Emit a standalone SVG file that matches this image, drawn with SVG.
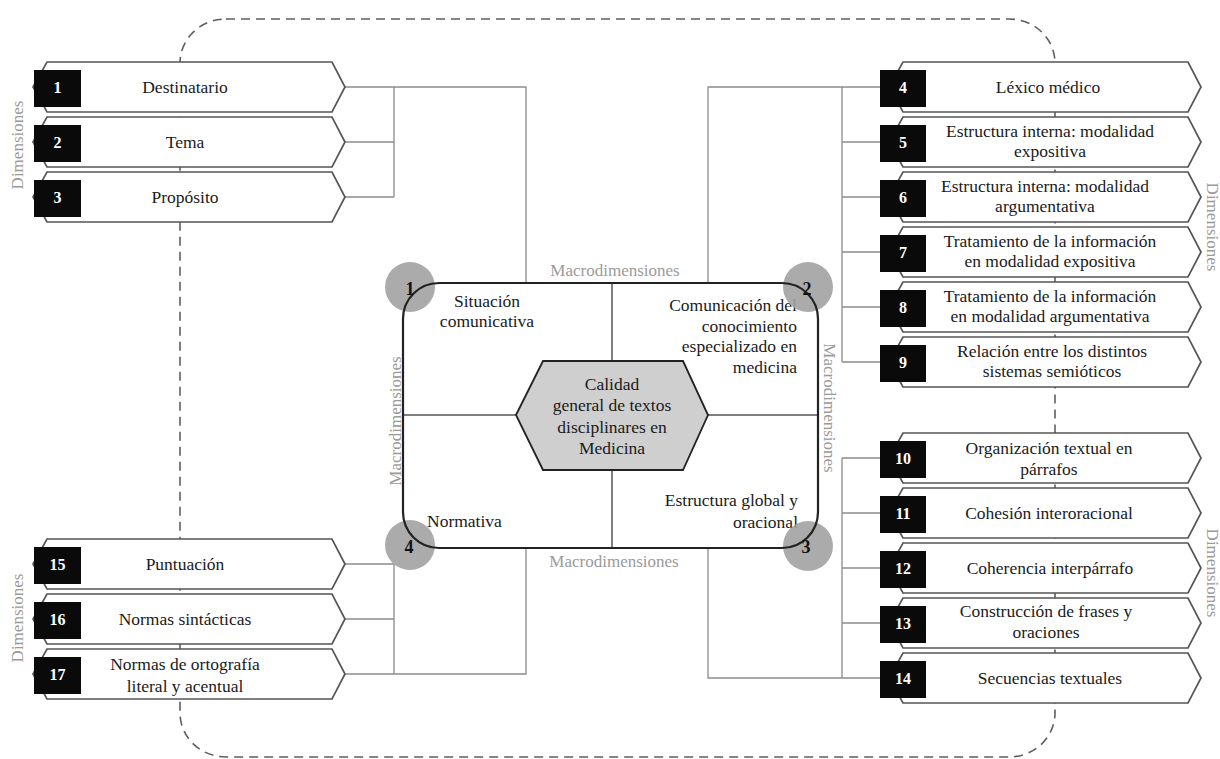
<svg xmlns="http://www.w3.org/2000/svg" width="1220" height="759" viewBox="0 0 1220 759">
<defs>
<style>
text{font-family:'Liberation Serif','Times New Roman','DejaVu Serif',serif}
.box{fill:#fff;stroke:#555;stroke-width:1.7}
.sq{fill:#0a0a0a}
.num{font-weight:bold;font-size:16px;fill:#fff;text-anchor:middle}
.lbl{font-size:17.5px;fill:#1a1a1a;text-anchor:middle}
.ctr{font-size:17.5px;fill:#1a1a1a}
.gray{font-size:17px;fill:#9a9a9a;text-anchor:middle}
.conn{fill:none;stroke:#8c8c8c;stroke-width:1.3}
.dash{fill:none;stroke:#5f5f5f;stroke-width:1.6;stroke-dasharray:9 6}
.circ{fill:#a2a2a2;fill-opacity:0.9}
.cnum{font-weight:bold;font-size:18px;fill:#111;text-anchor:middle}
</style>
<path id="chev" d="M14,0 H299 L312,25 L299,50 H14 L0,25 Z"/>
</defs>
<rect width="1220" height="759" fill="#fff"/>

<!-- outer dashed frame -->
<rect class="dash" x="180" y="19" width="875" height="738" rx="46" ry="44"/>

<!-- connectors -->
<g id="connectors" class="conn">
  <path d="M345,87 H526 V283 M345,142 H394 M345,197 H394 M394,87 V197"/>
  <path d="M345,564 H394 M345,619 H394 M345,674 H526 V548 M394,564 V674"/>
  <path d="M708,283 V87 H880 M842,87 V362 M842,142 H880 M842,197 H880 M842,252 H880 M842,307 H880 M842,362 H880"/>
  <path d="M708,548 V678 H880 M842,458 V678 M842,458 H880 M842,513 H880 M842,568 H880 M842,623 H880"/>
</g>

<!-- left top dimensions -->
<g id="d1"><use href="#chev" class="box" x="33" y="62"/><rect class="sq" x="34" y="70" width="47" height="37"/><text class="num" x="57.5" y="93">1</text><text class="lbl" x="185" y="93">Destinatario</text></g>
<g id="d2"><use href="#chev" class="box" x="33" y="117"/><rect class="sq" x="34" y="125" width="47" height="37"/><text class="num" x="57.5" y="148">2</text><text class="lbl" x="185" y="148">Tema</text></g>
<g id="d3"><use href="#chev" class="box" x="33" y="172"/><rect class="sq" x="34" y="180" width="47" height="37"/><text class="num" x="57.5" y="203">3</text><text class="lbl" x="185" y="203">Propósito</text></g>

<!-- left bottom dimensions -->
<g id="d15"><use href="#chev" class="box" x="33" y="539"/><rect class="sq" x="34" y="547" width="47" height="37"/><text class="num" x="57.5" y="570">15</text><text class="lbl" x="185" y="570">Puntuación</text></g>
<g id="d16"><use href="#chev" class="box" x="33" y="594"/><rect class="sq" x="34" y="602" width="47" height="37"/><text class="num" x="57.5" y="625">16</text><text class="lbl" x="185" y="625">Normas sintácticas</text></g>
<g id="d17"><use href="#chev" class="box" x="33" y="649"/><rect class="sq" x="34" y="657" width="47" height="37"/><text class="num" x="57.5" y="680">17</text><text class="lbl" x="185" y="670">Normas de ortografía</text><text class="lbl" x="185" y="692">literal y acentual</text></g>

<!-- right top dimensions -->
<g id="d4"><use href="#chev" class="box" x="889" y="62"/><rect class="sq" x="880" y="70" width="46" height="37"/><text class="num" x="903" y="93">4</text><text class="lbl" x="1048" y="93">Léxico médico</text></g>
<g id="d5"><use href="#chev" class="box" x="889" y="117"/><rect class="sq" x="880" y="125" width="46" height="37"/><text class="num" x="903" y="148">5</text><text class="lbl" x="1050" y="137">Estructura interna: modalidad</text><text class="lbl" x="1050" y="157">expositiva</text></g>
<g id="d6"><use href="#chev" class="box" x="889" y="172"/><rect class="sq" x="880" y="180" width="46" height="37"/><text class="num" x="903" y="203">6</text><text class="lbl" x="1045" y="192">Estructura interna: modalidad</text><text class="lbl" x="1045" y="212">argumentativa</text></g>
<g id="d7"><use href="#chev" class="box" x="889" y="227"/><rect class="sq" x="880" y="235" width="46" height="37"/><text class="num" x="903" y="258">7</text><text class="lbl" x="1050" y="247">Tratamiento de la información</text><text class="lbl" x="1050" y="267">en modalidad expositiva</text></g>
<g id="d8"><use href="#chev" class="box" x="889" y="282"/><rect class="sq" x="880" y="290" width="46" height="37"/><text class="num" x="903" y="313">8</text><text class="lbl" x="1050" y="302">Tratamiento de la información</text><text class="lbl" x="1050" y="322">en modalidad argumentativa</text></g>
<g id="d9"><use href="#chev" class="box" x="889" y="337"/><rect class="sq" x="880" y="345" width="46" height="37"/><text class="num" x="903" y="368">9</text><text class="lbl" x="1052" y="357">Relación entre los distintos</text><text class="lbl" x="1052" y="377">sistemas semióticos</text></g>

<!-- right bottom dimensions -->
<g id="d10"><use href="#chev" class="box" x="889" y="433"/><rect class="sq" x="880" y="441" width="46" height="37"/><text class="num" x="903" y="464">10</text><text class="lbl" x="1049" y="454">Organización textual en</text><text class="lbl" x="1049" y="475">párrafos</text></g>
<g id="d11"><use href="#chev" class="box" x="889" y="488"/><rect class="sq" x="880" y="496" width="46" height="37"/><text class="num" x="903" y="519">11</text><text class="lbl" x="1049" y="519">Cohesión interoracional</text></g>
<g id="d12"><use href="#chev" class="box" x="889" y="543"/><rect class="sq" x="880" y="551" width="46" height="37"/><text class="num" x="903" y="574">12</text><text class="lbl" x="1050" y="574">Coherencia interpárrafo</text></g>
<g id="d13"><use href="#chev" class="box" x="889" y="598"/><rect class="sq" x="880" y="606" width="46" height="37"/><text class="num" x="903" y="629">13</text><text class="lbl" x="1046" y="617">Construcción de frases y</text><text class="lbl" x="1046" y="638">oraciones</text></g>
<g id="d14"><use href="#chev" class="box" x="889" y="653"/><rect class="sq" x="880" y="661" width="46" height="37"/><text class="num" x="903" y="684">14</text><text class="lbl" x="1050" y="684">Secuencias textuales</text></g>

<!-- Dimensiones labels -->
<text class="gray" transform="translate(23,145) rotate(-90)">Dimensiones</text>
<text class="gray" transform="translate(23,618) rotate(-90)">Dimensiones</text>
<text class="gray" transform="translate(1207,227) rotate(90)">Dimensiones</text>
<text class="gray" transform="translate(1207,573) rotate(90)">Dimensiones</text>

<!-- central macrodimension panel -->
<g id="macro">
  <rect x="403" y="283" width="415" height="265" rx="36" fill="#fff"/>
  <path d="M612,283 V548 M403,415 H818" fill="none" stroke="#555" stroke-width="1.5"/>
  <text class="ctr" x="487" y="307" text-anchor="middle">Situación</text>
  <text class="ctr" x="487" y="327" text-anchor="middle">comunicativa</text>
  <text class="ctr" x="797" y="311" text-anchor="end">Comunicación del</text>
  <text class="ctr" x="797" y="332" text-anchor="end">conocimiento</text>
  <text class="ctr" x="797" y="352" text-anchor="end">especializado en</text>
  <text class="ctr" x="797" y="373" text-anchor="end">medicina</text>
  <text class="ctr" x="798" y="506" text-anchor="end">Estructura global y</text>
  <text class="ctr" x="798" y="528" text-anchor="end">oracional</text>
  <text class="ctr" x="427" y="527">Normativa</text>
  <circle class="circ" cx="410" cy="287" r="25"/>
  <circle class="circ" cx="808" cy="287" r="25"/>
  <circle class="circ" cx="808" cy="546" r="25"/>
  <circle class="circ" cx="410" cy="545" r="25"/>
  <rect x="403" y="283" width="415" height="265" rx="36" fill="none" stroke="#222" stroke-width="2.2"/>
  <text class="cnum" x="410" y="295">1</text>
  <text class="cnum" x="807" y="295">2</text>
  <text class="cnum" x="806" y="553">3</text>
  <text class="cnum" x="409" y="553">4</text>
  <text class="gray" x="615" y="276">Macrodimensiones</text>
  <text class="gray" x="614" y="567">Macrodimensiones</text>
  <text class="gray" transform="translate(401,421) rotate(-90)">Macrodimensiones</text>
  <text class="gray" transform="translate(824,408) rotate(90)">Macrodimensiones</text>
</g>

<g id="core">
  <polygon points="516,415 543,361 683,361 708,415 683,470 543,470" fill="#cfcfcf" stroke="#222" stroke-width="1.8"/>
  <text class="ctr" x="612" y="390" text-anchor="middle">Calidad</text>
  <text class="ctr" x="612" y="411" text-anchor="middle">general de textos</text>
  <text class="ctr" x="612" y="433" text-anchor="middle">disciplinares en</text>
  <text class="ctr" x="612" y="454" text-anchor="middle">Medicina</text>
</g>
</svg>
